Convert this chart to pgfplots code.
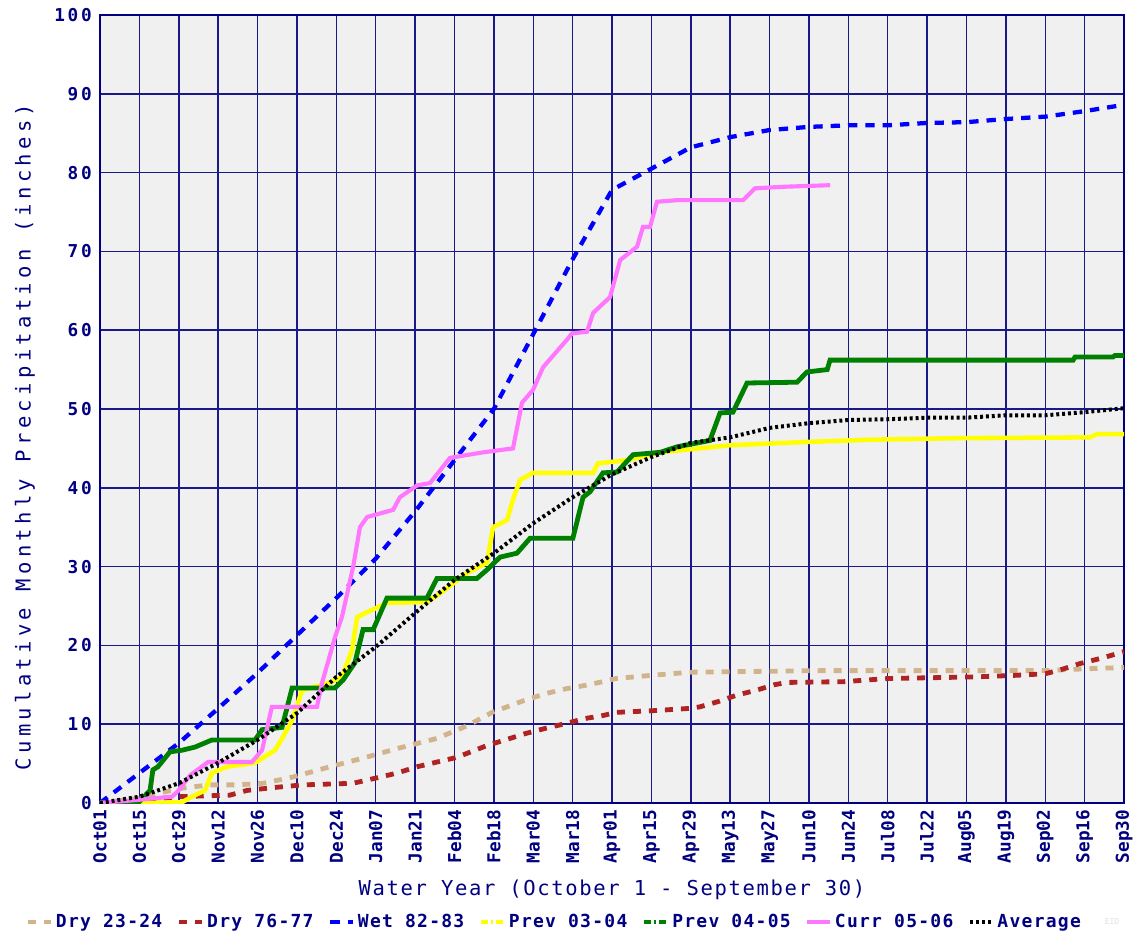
\documentclass[border=0pt]{standalone}
\usepackage{pgfplots}
\pgfplotsset{compat=1.18}
\usepackage{fontspec}
\setmainfont{DejaVu Sans Mono}
\newfontfamily\xtickfont{DejaVu Sans Mono}
\newfontfamily\ytickfont{DejaVu Sans Mono}[LetterSpace=15]
\newfontfamily\labfont{DejaVu Sans Mono}[LetterSpace=8]
\newfontfamily\ylabfont{DejaVu Sans Mono}[LetterSpace=21]
\newfontfamily\legfont{DejaVu Sans Mono}[LetterSpace=7]
\definecolor{navyc}{RGB}{0,0,128}
\definecolor{gridc}{RGB}{25,25,135}
\definecolor{bgc}{RGB}{240,240,240}
\definecolor{tanc}{RGB}{210,180,140}
\definecolor{brownc}{RGB}{175,35,35}
\definecolor{wetc}{RGB}{0,0,255}
\definecolor{yelc}{RGB}{255,255,0}
\definecolor{grnc}{RGB}{0,128,0}
\definecolor{pinkc}{RGB}{255,119,255}
\pgfplotsset{dashdotleg/.style={legend image code/.code={\draw[##1, dash pattern=on 5pt off 2pt on 2pt off 2pt] (0cm,0cm) -- (0.6cm,0cm);}}}
\begin{document}
\begin{tikzpicture}
\begin{axis}[
  scale only axis,
  width=768pt, height=591pt,
  xmin=0, xmax=364, ymin=0, ymax=100,
  axis background/.style={fill=bgc},
  axis line style={navyc, line width=1.5pt},
  grid=major,
  major grid style={gridc, line width=1.1pt},
  major tick length=0pt,
  xtick={0,14,...,364},
  xticklabels={Oct01,Oct15,Oct29,Nov12,Nov26,Dec10,Dec24,Jan07,Jan21,Feb04,Feb18,Mar04,Mar18,Apr01,Apr15,Apr29,May13,May27,Jun10,Jun24,Jul08,Jul22,Aug05,Aug19,Sep02,Sep16,Sep30},
  ytick={0,10,...,100},
  yticklabels={0,10,20,30,40,50,60,70,80,90,100},
  xticklabel style={rotate=90, anchor=east, font=\xtickfont\bfseries\fontsize{13.3pt}{14pt}\selectfont, text=navyc, inner sep=0pt, xshift=-5pt, yshift=0pt},
  yticklabel style={anchor=east, font=\ytickfont\bfseries\fontsize{13.3pt}{14pt}\selectfont, text=navyc, inner sep=0pt, xshift=-6pt},
  legend columns=7,
  legend style={at={(0.444,-0.151)}, anchor=center, draw=none, fill=none,
    font=\legfont\bfseries\fontsize{13.5pt}{14pt}\selectfont, text=navyc,
    /tikz/every even column/.append style={column sep=9pt}},
  legend cell align=left,
]
\coordinate (ll) at (rel axis cs:0,0);
% Dry 23-24
\addplot[tanc, line width=3.6pt, dash pattern=on 6pt off 6pt] coordinates {
(0,0) (14,0.6) (20.3,1.2) (29.5,1.9) (39.1,2.3) (48.7,2.3) (58,2.5) (68.6,3.3) (81.8,4.6) (93.5,5.7) (106.6,7) (119.8,8.2) (130.5,9.8) (139.4,11.5) (150.7,13) (158.6,13.9) (165.7,14.5) (172.1,14.9) (178.8,15.4) (183.4,15.8) (189.8,16) (195.9,16.2) (203,16.4) (209.4,16.6) (256.7,16.8) (336,16.8) (348.4,17) (364,17.2)};
\addlegendentry{Dry 23-24}
% Dry 76-77
\addplot[brownc, line width=3.6pt, dash pattern=on 6pt off 6pt] coordinates {
(0,0) (14,0.3) (27.7,0.8) (46.2,1.0) (52.3,1.6) (62.9,2.0) (72.2,2.3) (89.9,2.5) (98.5,3.2) (105.6,3.8) (112.7,4.6) (119.8,5.2) (126.9,5.8) (137.6,7.3) (144,8.0) (151.1,8.8) (158.6,9.5) (165.7,10.1) (172.1,10.7) (178.8,11.1) (183.4,11.5) (195.9,11.7) (209.4,12.0) (213.2,12.2) (220,12.9) (226.4,13.7) (233.2,14.3) (239.6,15.0) (244.2,15.3) (264.5,15.4) (280.1,15.8) (311,16.0) (325.3,16.2) (336,16.4) (342.3,17.0) (348.4,17.7) (356.2,18.4) (364,19.2)};
\addlegendentry{Dry 76-77}
% Wet 82-83
\addplot[wetc, line width=3.2pt, dash pattern=on 7pt off 6pt] coordinates {
(0,0) (14,3.8) (28,7.6) (42,12) (56,16.5) (70,21.3) (84,26) (98,31) (112,37) (126,43.5) (140,50) (154,59.5) (168,69) (182,77.8) (196,80.5) (210,83.2) (224,84.5) (238,85.4) (252,85.8) (266,86) (280,86) (294,86.3) (308,86.4) (322,86.8) (336,87.1) (350,87.8) (364,88.6)};
\addlegendentry{Wet 82-83}
% Prev 03-04
\addplot[yelc, line width=3.4pt, dashdotleg] coordinates {
(0,0) (16,0) (29.2,0.1) (32.7,0.8) (37.3,1.6) (39.8,3.8) (45.1,4.6) (55.1,5.1) (62.2,6.7) (65.1,8.4) (68.3,10.5) (71.8,14.3) (81.1,15.2) (86,16) (89.6,19.4) (91.4,23.6) (94.9,24.2) (102,25.4) (116.2,25.5) (120.9,26.6) (130.5,29.2) (137.6,30.5) (139.7,35) (144.7,35.9) (146.8,38.5) (149.3,41) (153.9,41.9) (175.3,41.9) (177,43.1) (187.3,43.5) (199.1,44.5) (224,45.4) (249.9,45.8) (273.7,46.1) (305.7,46.3) (351.9,46.4) (354.4,46.8) (364,46.8)};
\addlegendentry{Prev 03-04}
% Prev 04-05
\addplot[grnc, line width=3.6pt, dashdotleg] coordinates {
(0,0) (13.5,0) (17.8,1.6) (18.8,4.2) (20.6,4.6) (24.9,6.5) (29.2,6.7) (33.8,7.1) (39.8,8) (55.1,8) (57.6,9.3) (64.7,9.6) (68.3,14.6) (83.5,14.6) (86.4,15.6) (90.6,17.8) (93.5,22) (97.1,22) (102,26) (116.2,26) (119.8,28.5) (134,28.5) (137.6,29.6) (142.2,31.2) (148.2,31.7) (152.9,33.6) (168.1,33.6) (171.7,38.8) (174.2,39.5) (178.8,41.9) (183.8,42) (189.5,44.2) (199.1,44.5) (205.1,45.2) (216.8,46) (220.4,49.5) (225,49.6) (230,53.3) (247.8,53.4) (251.3,54.7) (258.5,55) (259.5,56.2) (345.9,56.2) (346.6,56.6) (360.1,56.6) (360.8,56.8) (364,56.8)};
\addlegendentry{Prev 04-05}
% Curr 05-06
\addplot[pinkc, line width=3.1pt] coordinates {
(0,0) (13.5,0.4) (25.6,0.8) (27.7,1.5) (32,3.5) (38.4,5.2) (54,5.2) (57.6,6.7) (61.1,12.2) (77.1,12.2) (78.9,15.2) (83.5,21) (86,23.6) (90,30) (92.4,35) (95,36.3) (104.2,37.2) (106.6,38.8) (112.7,40.3) (117.3,40.6) (124.4,43.8) (136.2,44.5) (146.8,45) (150,50.8) (153.9,52.4) (157.5,55.3) (166,58.8) (167.8,59.6) (173.1,59.8) (175.3,62.2) (181.3,64.2) (184.9,68.9) (190.9,70.6) (193,73.1) (195.5,73.1) (198,76.3) (205.1,76.5) (228.6,76.5) (232.8,78) (242.8,78.2) (259.5,78.4)};
\addlegendentry{Curr 05-06}
% Average
\addplot[black, line width=3pt, dash pattern=on 2.2pt off 2.2pt] coordinates {
(0,0) (14,0.8) (28,2.5) (42,5.1) (56,8) (70,11.4) (84,16) (98,19.8) (112,24.1) (126,28.3) (140,31.7) (154,35.5) (168,38.8) (182,41.7) (196,43.9) (210,45.7) (224,46.4) (238,47.6) (252,48.2) (266,48.6) (280,48.7) (294,48.9) (308,48.9) (322,49.2) (336,49.2) (350,49.6) (364,50.1)};
\addlegendentry{Average}
\end{axis}
\node[text=navyc, font=\labfont\fontsize{15.4pt}{16pt}\selectfont] at ([shift={(384pt,-65.25pt)}]ll) {Water Year (October 1 - September 30)};
\node[text=navyc, rotate=90, font=\ylabfont\fontsize{15.4pt}{16pt}\selectfont] at ([shift={(-56.25pt,274.5pt)}]ll) {Cumulative Monthly Precipitation (inches)};
\node[text=black!12, font=\fontsize{6pt}{7pt}\selectfont] at ([shift={(759pt,-89pt)}]ll) {EID};
\pgfresetboundingbox
\path[use as bounding box] ([shift={(-75pt,-98.25pt)}]ll) rectangle ++(852.75pt,700.5pt);
\end{tikzpicture}
\end{document}
